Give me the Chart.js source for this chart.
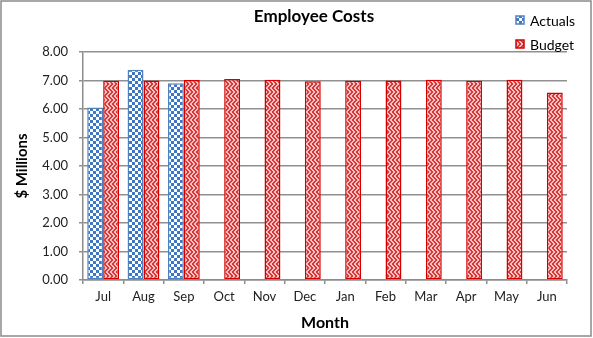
<!DOCTYPE html>
<html>
<head>
<meta charset="utf-8">
<script src="https://cdn.jsdelivr.net/npm/chart.js@4.4.1/dist/chart.umd.min.js"></script>
<style>
    html, body { margin: 0; padding: 0; background: #fff; }
    #wrap { width: 593px; height: 338px; }
</style>
</head>
<body>
<div id="wrap"><canvas id="costChart" width="593" height="338"></canvas></div>
<script>
const months = ["Jul", "Aug", "Sep", "Oct", "Nov", "Dec", "Jan", "Feb", "Mar", "Apr", "May", "Jun"];
const actuals = [6.05, 7.38, 6.9, null, null, null, null, null, null, null, null, null];
const budget = [6.99, 7.0, 7.02, 7.05, 7.03, 6.97, 6.99, 7.0, 7.03, 6.99, 7.03, 6.58];
const yTicks = [0, 1, 2, 3, 4, 5, 6, 7, 8];

const FONT = "Lato, 'Open Sans', sans-serif";

// ===== FILL PATTERNS =====

function makePattern(rows, ink, paper) {
    const c = document.createElement("canvas");
    c.width = rows[0].length;
    c.height = rows.length;
    const g = c.getContext("2d");
    g.fillStyle = paper;
    g.fillRect(0, 0, c.width, c.height);
    g.fillStyle = ink;
    rows.forEach((row, y) => {
        for (let x = 0; x < row.length; x++) {
            if (row[x] === "X") g.fillRect(x, y, 1, 1);
        }
    });
    return g.createPattern(c, "repeat");
}

const checker = makePattern([
    "XXX...",
    "XXX...",
    "XXX...",
    "...XXX",
    "...XXX",
    "...XXX"
], "#3f76c4", "#ffffff");

const zigzag = makePattern([
    "XX..XX..",
    ".XX..XX.",
    "..XX..XX",
    "X..XX..X",
    "X..XX..X",
    "..XX..XX",
    ".XX..XX.",
    "XX..XX.."
], "#df3434", "#f6c4c4");

// ===== TITLE, LEGEND, FRAME =====

const decorations = {
    id: "decorations",
    beforeDraw(chart) {
        const ctx = chart.ctx;
        ctx.save();
        ctx.fillStyle = "#fff";
        ctx.fillRect(0, 0, chart.width, chart.height);
        ctx.strokeStyle = "#8a8a8a";
        ctx.lineWidth = 1.5;
        ctx.strokeRect(1, 1, 590, 335);
        ctx.restore();
    },
    afterDraw(chart) {
        const ctx = chart.ctx;
        ctx.save();
        ctx.fillStyle = "#000";
        ctx.font = "bold 17px " + FONT;
        ctx.textAlign = "center";
        ctx.textBaseline = "middle";
        ctx.fillText("Employee Costs", 314, 17);

        ctx.font = "14px " + FONT;
        ctx.textAlign = "left";
        chart.data.datasets.forEach((ds, i) => {
            const y = 20 + i * 24;
            ctx.fillStyle = ds.backgroundColor;
            ctx.fillRect(516, y - 4, 8, 8);
            ctx.strokeStyle = ds.borderColor;
            ctx.lineWidth = 1.5;
            ctx.strokeRect(516, y - 4, 8, 8);
            ctx.fillStyle = "#000";
            ctx.fillText(ds.label, 530, y + 1);
        });
        ctx.restore();
    }
};

new Chart(document.getElementById("costChart"), {
    type: "bar",
    data: {
        labels: months,
        datasets: [
            {
                label: "Actuals",
                data: actuals,
                backgroundColor: checker,
                borderColor: "#4f81bd",
                borderWidth: 1.5,
                borderSkipped: false
            },
            {
                label: "Budget",
                data: budget,
                backgroundColor: zigzag,
                borderColor: "#d40000",
                borderWidth: 1.5,
                borderSkipped: false
            }
        ]
    },
    options: {
        responsive: false,
        animation: false,
        devicePixelRatio: 1,
        layout: { padding: { top: 52, left: 0, right: 26, bottom: 0 } },
        datasets: {
            bar: { barPercentage: 1, categoryPercentage: 0.79 }
        },
        plugins: {
            legend: { display: false },
            title: { display: false },
            tooltip: { enabled: false }
        },
        scales: {
            x: {
                grid: {
                    drawOnChartArea: false,
                    drawTicks: true,
                    tickLength: 4,
                    color: "#8c8c8c",
                    lineWidth: 1.5
                },
                border: { color: "#8c8c8c", width: 1.5 },
                ticks: {
                    color: "#222",
                    font: { family: FONT, size: 13 },
                    padding: 5,
                    maxRotation: 0
                },
                title: {
                    display: true,
                    text: "Month",
                    color: "#000",
                    font: { family: FONT, size: 16, weight: "bold" },
                    padding: { top: 6, bottom: 6 }
                },
                afterFit(scale) { scale.height = 58; }
            },
            y: {
                min: yTicks[0],
                max: yTicks[yTicks.length - 1],
                afterBuildTicks(scale) {
                    scale.ticks = yTicks.map(v => ({ value: v }));
                },
                grid: {
                    color: "#909090",
                    lineWidth: 1.5,
                    tickLength: 4
                },
                border: { color: "#8c8c8c", width: 1.5 },
                ticks: {
                    color: "#222",
                    font: { family: FONT, size: 13 },
                    padding: 11,
                    callback: v => Number(v).toFixed(2)
                },
                title: {
                    display: true,
                    text: "$ Millions",
                    color: "#000",
                    font: { family: FONT, size: 15, weight: "bold" },
                    padding: { top: 13, bottom: 13 }
                },
                afterFit(scale) { scale.width = 83; }
            }
        }
    },
    plugins: [decorations]
});
</script>
</body>
</html>
